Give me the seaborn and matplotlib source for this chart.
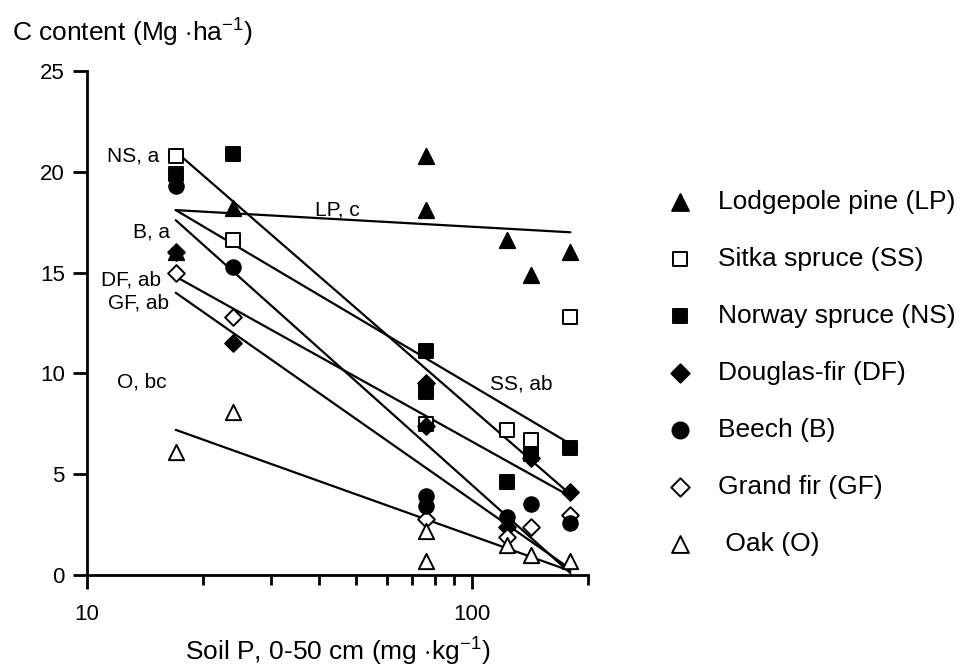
import numpy as np
import pandas as pd
import matplotlib
matplotlib.use("Agg")
import matplotlib.pyplot as plt
import matplotlib.ticker as mticker
import seaborn as sns

# soil P of the sites (mg/kg); two sites lie close together near 76
soil_p = [17, 24, 76, 76, 123, 142, 180]

species = ["Lodgepole pine (LP)", "Sitka spruce (SS)", "Norway spruce (NS)",
           "Douglas-fir (DF)", "Beech (B)", "Grand fir (GF)", " Oak (O)"]

# C content per site (Mg/ha), nan = no visible point
c_lp = [16.0, 18.2, 20.8, 18.1, 16.6, 14.9, 16.0]
c_ss = [20.8, 16.6, 7.5, np.nan, 7.2, 6.7, 12.8]
c_ns = [19.9, 20.9, 11.1, 9.1, 4.6, 6.0, 6.3]
c_df = [16.0, 11.5, 9.5, 7.4, 2.4, 5.8, 4.1]
c_b = [19.3, 15.3, 3.9, 3.4, 2.9, 3.5, 2.6]
c_gf = [15.0, 12.8, 2.8, np.nan, 1.9, 2.4, 3.0]
c_o = [6.1, 8.1, 2.2, 0.7, 1.5, 1.0, 0.7]
c_all = [c_lp, c_ss, c_ns, c_df, c_b, c_gf, c_o]

# fitted lines, value at lowest and highest soil P
line_p = [17, 180]
line_start = [18.1, 18.1, 21.0, 14.8, 17.6, 14.0, 7.2]
line_end = [17.0, 6.5, 4.0, 3.9, 0.1, 0.3, 0.2]
line_labels = ["LP, c", "SS, ab", "NS, a", "DF, ab", "B, a", "GF, ab", "O, bc"]

# layout of the line labels
lab_x = [39, 111, 15.4, 15.6, 16.4, 16.3, 16.1]
lab_y = [18.1, 9.45, 20.8, 14.65, 17.0, 13.5, 9.55]
lab_ha = ["left", "left", "right", "right", "right", "right", "right"]

markers = ["^", "s", "s", "D", "o", "D", "^"]
filled = [True, False, True, True, True, False, False]
msize = [11, 9.5, 9.5, 8.5, 10.5, 8.5, 11]

rows = []
for sp, vals in zip(species, c_all):
    for p, v in zip(soil_p, vals):
        if not np.isnan(v):
            rows.append({"species": sp, "P": p, "C": v})
df = pd.DataFrame(rows)

sns.set_style("ticks")
plt.rcParams["font.family"] = ["Liberation Sans", "DejaVu Sans"]
plt.rcParams["mathtext.fontset"] = "custom"
plt.rcParams["mathtext.rm"] = "Liberation Sans"
plt.rcParams["mathtext.it"] = "Liberation Sans:italic"
for key in ["text.color", "axes.labelcolor", "xtick.color", "ytick.color",
            "axes.edgecolor"]:
    plt.rcParams[key] = "black"

fig = plt.figure(figsize=(9.6, 6.7), dpi=100)
ax = fig.add_axes([87 / 960, 1 - 575 / 670, 501 / 960, 504 / 670])

for i in range(len(species)):
    sns.lineplot(x=line_p, y=[line_start[i], line_end[i]], color="black",
                 lw=1.6, ax=ax, zorder=1)

# draw order so that circles sit over open diamonds
order = [0, 1, 2, 3, 5, 4, 6]
for i in order:
    sub = df[df["species"] == species[i]]
    sns.scatterplot(data=sub, x="P", y="C", marker=markers[i], s=msize[i] ** 2,
                    color="black" if filled[i] else "white",
                    edgecolor="black", linewidth=1.4, label=species[i],
                    ax=ax, zorder=3)

for i in range(len(species)):
    ax.text(lab_x[i], lab_y[i], line_labels[i], ha=lab_ha[i], va="center",
            fontsize=15)

ax.set_xscale("log")
ax.set_xlim(10, 200)
ax.set_ylim(0, 25)
ax.set_xticks([10, 100])
ax.xaxis.set_major_formatter(mticker.FuncFormatter(lambda v, _: f"{v:.0f}"))
ax.xaxis.set_minor_locator(mticker.FixedLocator([20, 30, 40, 50, 60, 70, 80, 90, 200]))
ax.xaxis.set_minor_formatter(mticker.NullFormatter())
ax.set_yticks([0, 5, 10, 15, 20, 25])
ax.tick_params(axis="both", which="major", direction="out", length=10,
               width=2, labelsize=16, pad=6)
ax.tick_params(axis="x", which="major", pad=11)
ax.tick_params(axis="x", which="minor", direction="out", length=7, width=2)
for s in ["left", "bottom"]:
    ax.spines[s].set_linewidth(2)
sns.despine(ax=ax)

ax.set_xlabel(r"Soil P, 0-50 cm (mg $\cdot$kg$^{-1}$)", fontsize=19, labelpad=8)
ax.set_ylabel("")
fig.text(12 / 960, 1 - 33 / 670, r"C content (Mg $\cdot$ha$^{-1}$)",
         fontsize=19, va="center", ha="left")

h, l = ax.get_legend_handles_labels()
by_label = dict(zip(l, h))
ax.legend([by_label[s] for s in species], species, loc="upper left",
          bbox_to_anchor=(669 / 960, 1 - 190 / 670),
          bbox_transform=fig.transFigure, frameon=False, fontsize=19,
          labelspacing=1.25, handlelength=0.8, handletextpad=1.05,
          borderpad=0, borderaxespad=0, markerscale=1.1)

fig.savefig("out.png", dpi=100)
